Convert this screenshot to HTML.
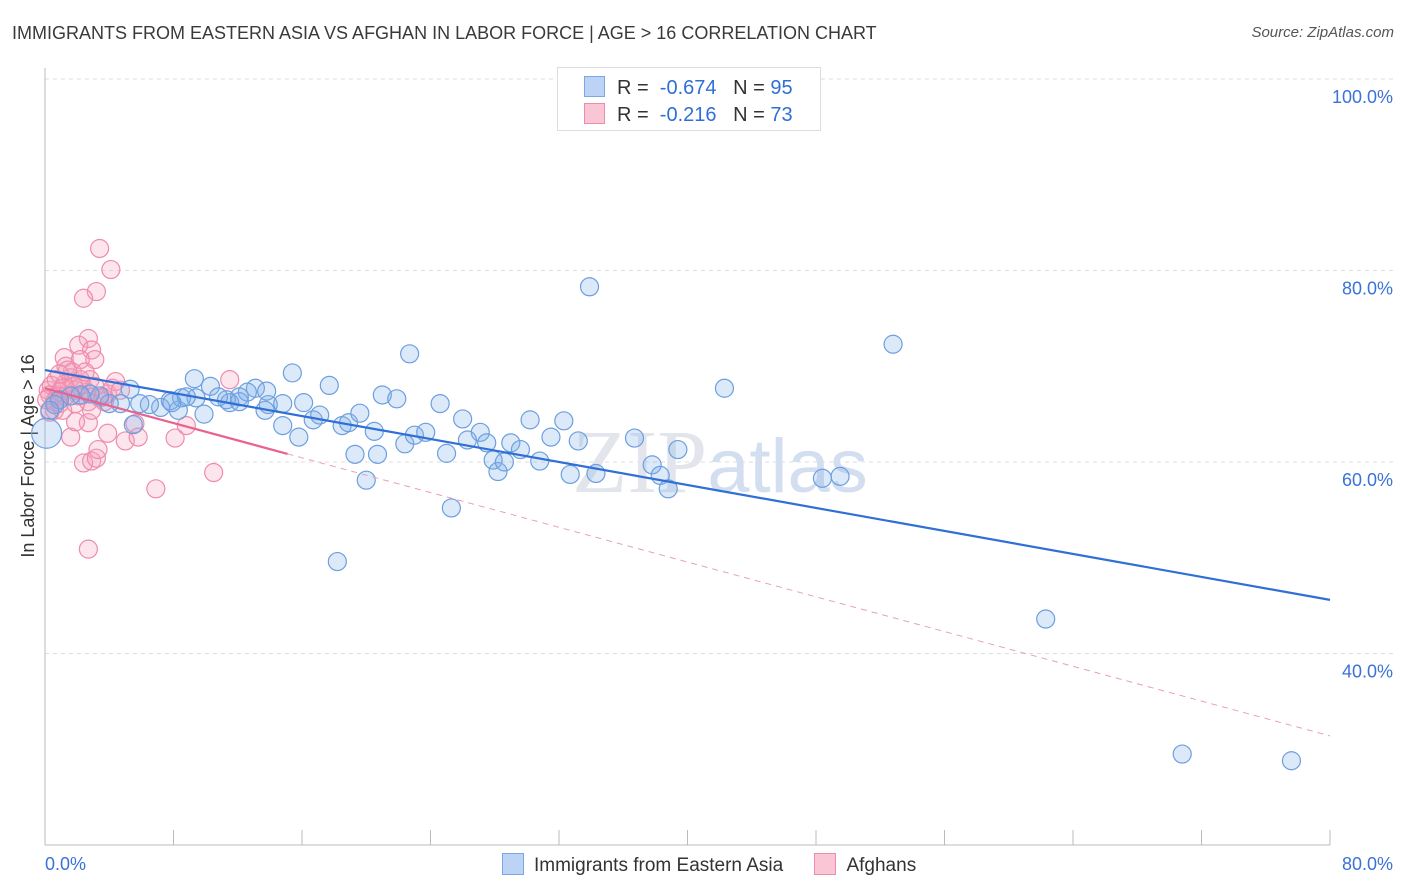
<!DOCTYPE html>
<html><head><meta charset="utf-8"><style>
body{margin:0;background:#fff;font-family:"Liberation Sans",sans-serif;}
#wrap{position:relative;width:1406px;height:892px;overflow:hidden}
.t{position:absolute;white-space:nowrap}
</style></head><body><div id="wrap">
<div class="t" style="left:12px;top:23px;font-size:18px;color:#3a3a3a">IMMIGRANTS FROM EASTERN ASIA VS AFGHAN IN LABOR FORCE | AGE &gt; 16 CORRELATION CHART</div>
<div class="t" style="right:12px;top:24px;font-size:15px;color:#555;font-style:italic">Source: ZipAtlas.com</div>
<svg id="svg" width="1406" height="892" style="position:absolute;left:0;top:0"></svg>
</div>
<script>
const xTicks=[0,8,16,24,32,40,48,56,64,72,80];
const yGrid=[100,80,60,40];
const yLabels=["100.0%","80.0%","60.0%","40.0%"];
const blueX=[33.9,52.8,22.7,15.4,42.3,9.3,17.7,5.3,10.3,13.1,21.0,21.9,24.6,26.0,30.2,32.3,36.7,39.4,48.4,49.5,62.3,70.8,77.6,18.2,25.3,20.0,19.3,20.7,25.0,22.4,23.0,23.7,27.1,26.3,27.5,29.0,29.6,27.9,28.2,28.6,30.8,31.5,33.2,32.7,34.3,37.8,38.3,38.8,15.8,14.8,16.7,17.1,18.5,18.9,19.6,20.5,16.1,13.9,14.8,12.1,12.6,11.5,11.3,10.8,9.9,9.4,8.5,8.3,7.8,7.2,6.5,5.9,4.7,4.0,3.4,2.8,2.2,1.6,0.9,0.6,0.3,13.8,13.7,8.8,5.5,7.9,12.1,0.1];
const blueY=[78.3,72.3,71.3,69.3,67.7,68.7,68.0,67.6,67.9,67.7,67.0,66.6,66.1,64.5,64.4,64.3,62.5,61.3,58.3,58.5,43.6,29.5,28.8,49.6,55.2,58.1,60.8,60.8,60.9,61.9,62.8,63.1,63.1,62.3,62.0,62.0,61.3,60.2,59.0,60.0,60.1,62.6,62.2,58.7,58.8,59.7,58.6,57.2,62.6,63.8,64.4,64.9,63.8,64.1,65.1,63.2,66.2,66.0,66.1,66.8,67.3,66.2,66.5,66.8,65.0,66.7,66.7,65.4,66.4,65.7,66.0,66.1,66.1,66.1,66.9,67.1,67.0,66.9,66.5,66.0,65.4,67.4,65.4,66.8,63.9,66.2,66.3,63.0];
const pinkX=[3.4,4.1,3.2,2.4,2.7,2.1,2.9,1.2,3.1,2.2,1.3,11.5,8.8,10.5,6.9,2.7,2.4,2.9,3.2,3.3,1.6,3.9,5.0,5.8,8.1,5.6,2.7,1.9,0.9,0.6,0.3,0.2,0.4,0.7,0.9,1.2,1.6,1.9,2.1,2.3,2.6,2.8,3.1,3.4,3.7,3.9,4.2,4.4,1.7,1.4,0.9,0.3,0.1,0.8,1.1,1.3,1.8,2.2,2.5,1.1,0.6,3.6,4.7,1.9,2.7,2.9];
const pinkY=[82.3,80.1,77.8,77.1,72.9,72.2,71.7,70.9,70.7,70.7,70.0,68.6,63.8,58.9,57.2,50.9,59.9,60.1,60.4,61.3,62.6,63.0,62.2,62.6,62.5,64.0,64.1,64.2,66.1,65.4,65.2,67.5,68.0,68.6,67.3,68.1,68.8,67.5,66.9,68.1,67.3,68.6,67.9,66.7,66.3,67.1,67.7,68.4,69.4,69.6,69.2,67.0,66.5,66.9,67.7,66.9,67.9,68.6,69.4,65.4,66.3,66.8,67.5,66.1,66.3,65.4];
const blueTrend=[69.6,45.6];
const pinkTrend=[67.7,31.4];
const pinkSolidEnd=15.1;
const X=v=>45+v/80*1285;
const Y=v=>79+(100-v)/20*191.5;
const svg=document.getElementById('svg');
const NS='http://www.w3.org/2000/svg';
function mk(tag,attrs){const e=document.createElementNS(NS,tag);for(const k in attrs)e.setAttribute(k,attrs[k]);svg.appendChild(e);return e;}
yGrid.forEach((g,i)=>{
 const l=mk('line',{x1:45,x2:1393,y1:Y(g),y2:Y(g),stroke:'#ddd','stroke-dasharray':'4,4'});
 
 
 const t=mk('text',{x:1393,y:Y(g)+24,'text-anchor':'end','font-size':18,fill:'#3a72d8'});
 t.textContent=yLabels[i];
 
 
});
const ax=mk('line',{x1:45,x2:45,y1:68,y2:845,stroke:'#bbb'});


const bx=mk('line',{x1:45,x2:1330,y1:845,y2:845,stroke:'#bbb'});


xTicks.forEach(v=>{const l=mk('line',{x1:X(v),x2:X(v),y1:830,y2:845,stroke:'#bbb'});
 
 });
[[0,'start',45,'0.0%'],[80,'end',1393,'80.0%']].forEach(a=>{const t=mk('text',{x:a[2],y:870,'text-anchor':a[1],'font-size':18,fill:'#3a72d8'});t.textContent=a[3];
 
 });
const yt=mk('text',{x:34,y:456,'text-anchor':'middle','font-size':18,fill:'#333',transform:'rotate(-90 34 456)'});
yt.textContent='In Labor Force | Age > 16';


const wm=mk('text',{x:720,y:492,'text-anchor':'middle','font-size':90,fill:'#e2e6ec','font-family':'Liberation Serif'});
wm.innerHTML='ZIP<tspan font-family="Liberation Sans" font-size="76" fill="#d3def0">atlas</tspan>';


pinkX.forEach((x,i)=>{const c=mk('circle',{cx:X(x),cy:Y(pinkY[i]),r:9,fill:'rgba(245,160,190,0.28)',stroke:'#f08cab','stroke-width':1.2});
 
 });
blueX.forEach((x,i)=>{const c=mk('circle',{cx:X(x),cy:Y(blueY[i]),r:i==blueX.length-1?15:9,fill:'rgba(130,175,235,0.28)',stroke:'#6c9fe0','stroke-width':1.2});
 
 });
const bl=mk('line',{x1:X(0),y1:Y(blueTrend[0]),x2:X(80),y2:Y(blueTrend[1]),stroke:'#2f6fd6','stroke-width':2.2});


const pm=v=>pinkTrend[0]+(pinkTrend[1]-pinkTrend[0])*v/80;
const pl=mk('line',{x1:X(0),y1:Y(pinkTrend[0]),x2:X(pinkSolidEnd),y2:Y(pm(pinkSolidEnd)),stroke:'#e8638f','stroke-width':2.2});


const pd=mk('line',{x1:X(pinkSolidEnd),y1:Y(pm(pinkSolidEnd)),x2:X(80),y2:Y(pinkTrend[1]),stroke:'#e8a0b8','stroke-width':1,'stroke-dasharray':'6,5'});


</script>
<div class="t" style="left:557px;top:67px;width:262px;height:62px;border:1px solid #ddd;background:#fff;font-size:20px;color:#333">
 <div style="position:absolute;left:26px;top:8px"><span style="display:inline-block;width:19px;height:19px;background:#bcd3f5;border:1px solid #7aa7e6;vertical-align:-3px;margin-right:12px"></span>R = &nbsp;<span style="color:#2f6fd6">-0.674</span>&nbsp;&nbsp;&nbsp;N = <span style="color:#2f6fd6">95</span></div>
 <div style="position:absolute;left:26px;top:35px"><span style="display:inline-block;width:19px;height:19px;background:#f9c6d6;border:1px solid #f08cab;vertical-align:-3px;margin-right:12px"></span>R = &nbsp;<span style="color:#2f6fd6">-0.216</span>&nbsp;&nbsp;&nbsp;N = <span style="color:#2f6fd6">73</span></div>
</div>
<div class="t" style="left:502px;top:853px;font-size:19px;color:#333">
 <span style="display:inline-block;width:20px;height:20px;background:#bcd3f5;border:1px solid #7aa7e6;vertical-align:-4px;margin-right:10px"></span>Immigrants from Eastern Asia
 <span style="display:inline-block;width:20px;height:20px;background:#f9c6d6;border:1px solid #f08cab;vertical-align:-4px;margin:0 10px 0 26px"></span>Afghans
</div>
</body></html>
